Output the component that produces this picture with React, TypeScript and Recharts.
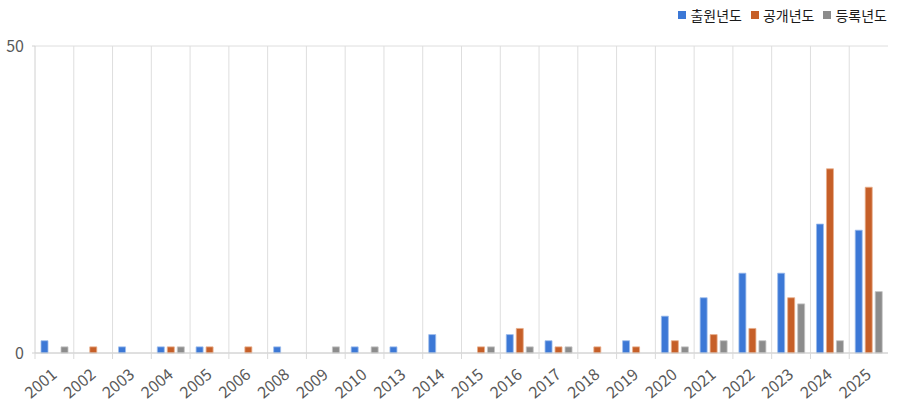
import React from 'react';
import { BarChart, Bar, XAxis, YAxis, CartesianGrid } from 'recharts';

const years = ['2001', '2002', '2003', '2004', '2005', '2006', '2008', '2009', '2010', '2013', '2014',
  '2015', '2016', '2017', '2018', '2019', '2020', '2021', '2022', '2023', '2024', '2025'];
const filed = [2, 0, 1, 1, 1, 0, 1, 0, 1, 1, 3, 0, 3, 2, 0, 2, 6, 9, 13, 13, 21, 20];
const published = [0, 1, 0, 1, 1, 1, 0, 0, 0, 0, 0, 1, 4, 1, 1, 1, 2, 3, 4, 9, 30, 27];
const registered = [1, 0, 0, 1, 0, 0, 0, 1, 1, 0, 0, 1, 1, 1, 0, 0, 1, 2, 2, 8, 2, 10];

const series = [
  { key: 'filed', name: '출원년도', color: '#3c78d6', edge: '#9dbcec' },
  { key: 'published', name: '공개년도', color: '#c65f28', edge: '#e8ae8c' },
  { key: 'registered', name: '등록년도', color: '#8c8c8c', edge: '#c4c4c4' },
];

const data = years.map((y, i) => ({
  year: y,
  filed: filed[i],
  published: published[i],
  registered: registered[i],
}));

const FONT = '"Noto Sans CJK KR", "Noto Sans", sans-serif';

const YearTick = (props: any) => {
  const { x, y, payload, width, visibleTicksCount } = props;
  const band = width / visibleTicksCount;
  const bx = x - band / 2;
  const ax = x;
  const ay = y + 19;
  return (
    <g>
      <line x1={bx} y1={y} x2={bx} y2={y + 6} stroke="#d9d9d9" />
      <text
        x={ax}
        y={ay}
        textAnchor="end"
        fontSize={16}
        fill="#595959"
        fontFamily={FONT}
        transform={`rotate(-40, ${ax}, ${ay})`}
        dy="0.35em"
      >
        {payload.value}
      </text>
    </g>
  );
};

const LegendBox = () => (
  <div
    style={{
      position: 'absolute',
      top: 5,
      right: 12,
      display: 'flex',
      gap: 9,
      fontFamily: FONT,
      fontSize: 14,
      color: '#1a1a1a',
    }}
  >
    {series.map((s) => (
      <div key={s.key} style={{ display: 'flex', alignItems: 'center' }}>
        <span style={{ width: 8, height: 8, background: s.color, marginRight: 4, display: 'inline-block' }} />
        <span>{s.name}</span>
      </div>
    ))}
  </div>
);

export default function App() {
  return (
    <div style={{ position: 'fixed', top: 0, left: 0, width: 899, height: 409, background: '#fff' }}>
      <BarChart
        width={899}
        height={409}
        data={data}
        margin={{ top: 46, right: 11, left: 0, bottom: 0 }}
        barSize={7}
        barGap={3}
      >
        <CartesianGrid
          stroke="#dedede"
          verticalCoordinatesGenerator={({ offset }: any) =>
            years.slice(1).map((_, i) => offset.left + ((i + 1) * offset.width) / years.length)
          }
        />
        <XAxis
          dataKey="year"
          interval={0}
          height={56}
          tickSize={0}
          tickMargin={0}
          tickLine={false}
          axisLine={{ stroke: '#d0d0d0' }}
          tick={<YearTick />}
        />
        <YAxis
          domain={[0, 50]}
          ticks={[0, 50]}
          width={35}
          tickSize={3}
          tickLine={{ stroke: '#d0d0d0' }}
          axisLine={{ stroke: '#d0d0d0' }}
          tick={{ fill: '#595959', fontSize: 16, fontFamily: FONT }}
          tickMargin={8}
        />
        {series.map((s) => (
          <Bar
            key={s.key}
            dataKey={s.key}
            name={s.name}
            fill={s.color}
            stroke={s.edge}
            strokeWidth={0.8}
            isAnimationActive={false}
          />
        ))}
      </BarChart>
      <LegendBox />
    </div>
  );
}
